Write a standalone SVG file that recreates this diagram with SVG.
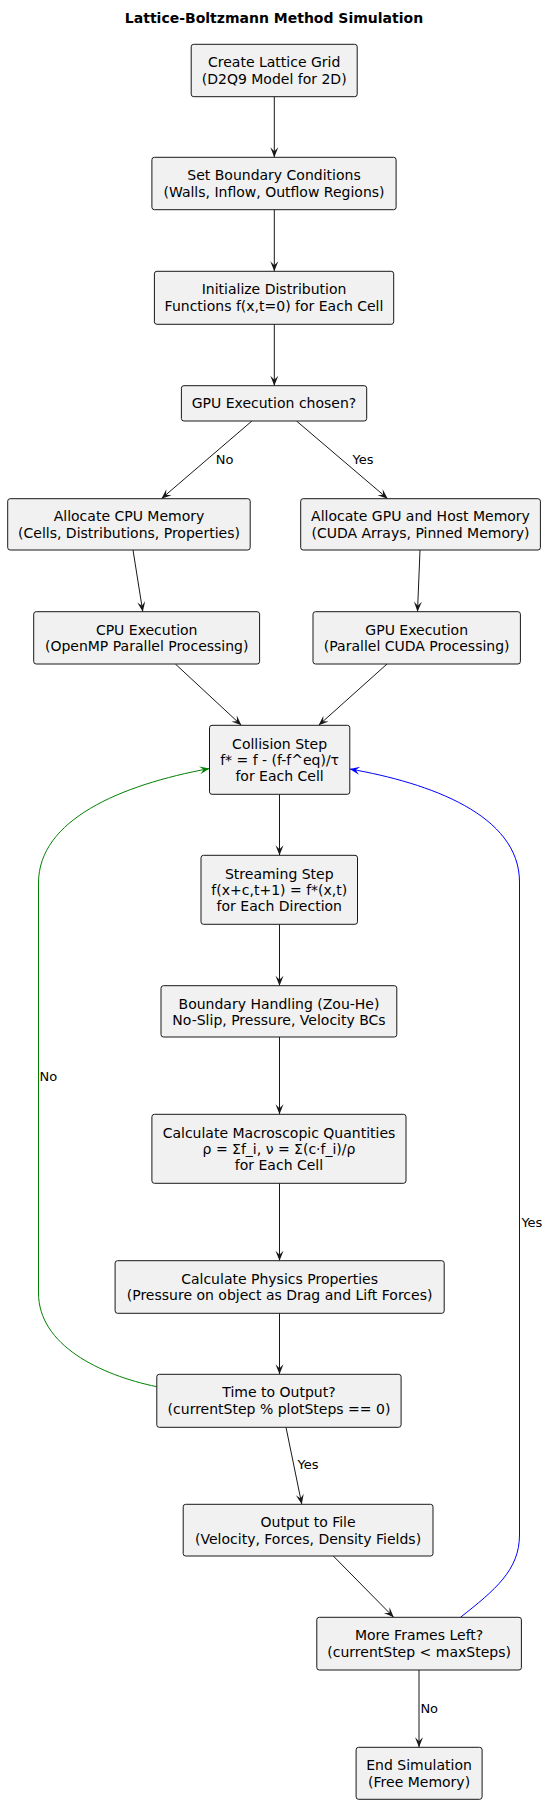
<svg xmlns="http://www.w3.org/2000/svg" width="548" height="1804" viewBox="0 0 548 1804">
<style>
.n rect{fill:#F1F1F1;stroke:#181818;stroke-width:1}
.n text{font-family:"DejaVu Sans",sans-serif;font-size:14px;fill:#000;text-anchor:middle}
.e{fill:none;stroke:#181818;stroke-width:1}
.lbl{font-family:"DejaVu Sans",sans-serif;font-size:13px;fill:#000}
.title{font-family:"DejaVu Sans",sans-serif;font-size:14px;font-weight:bold;fill:#000;text-anchor:middle}
</style>
<defs>
<marker id="ab" markerUnits="userSpaceOnUse" markerWidth="12" markerHeight="10" viewBox="-11 -5 12 10" refX="0" refY="0" orient="auto"><path d="M0,0 L-10,-4 L-6,0 L-10,4 Z" fill="#181818"/></marker>
<marker id="ag" markerUnits="userSpaceOnUse" markerWidth="12" markerHeight="10" viewBox="-11 -5 12 10" refX="0" refY="0" orient="auto"><path d="M0,0 L-10,-4 L-6,0 L-10,4 Z" fill="#008000"/></marker>
<marker id="abl" markerUnits="userSpaceOnUse" markerWidth="12" markerHeight="10" viewBox="-11 -5 12 10" refX="0" refY="0" orient="auto"><path d="M0,0 L-10,-4 L-6,0 L-10,4 Z" fill="#0000FF"/></marker>
</defs>
<text class="title" x="274" y="22.7">Lattice-Boltzmann Method Simulation</text>
<g id="connectors">
<line class="e" x1="274.3" y1="96.7" x2="274.3" y2="157.3" marker-end="url(#ab)"/>
<line class="e" x1="274.3" y1="209.7" x2="274.3" y2="271.3" marker-end="url(#ab)"/>
<line class="e" x1="274.3" y1="324.3" x2="274.3" y2="385.7" marker-end="url(#ab)"/>
<line class="e" x1="251.9" y1="421" x2="161.4" y2="498.7" marker-end="url(#ab)"/>
<text class="lbl" x="215.8" y="464">No</text>
<line class="e" x1="296.5" y1="421" x2="387.7" y2="498.7" marker-end="url(#ab)"/>
<text class="lbl" x="352.6" y="464">Yes</text>
<line class="e" x1="133" y1="550" x2="142.8" y2="611.7" marker-end="url(#ab)"/>
<line class="e" x1="420" y1="550" x2="417.5" y2="611.7" marker-end="url(#ab)"/>
<line class="e" x1="175.4" y1="664" x2="241.4" y2="725.3" marker-end="url(#ab)"/>
<line class="e" x1="387" y1="664" x2="318.6" y2="725.3" marker-end="url(#ab)"/>
<line class="e" x1="279.5" y1="794.3" x2="279.5" y2="855.3" marker-end="url(#ab)"/>
<line class="e" x1="279.5" y1="924.3" x2="279.5" y2="985.7" marker-end="url(#ab)"/>
<line class="e" x1="279.5" y1="1037" x2="279.5" y2="1114.3" marker-end="url(#ab)"/>
<line class="e" x1="279.5" y1="1183.3" x2="279.5" y2="1260.7" marker-end="url(#ab)"/>
<line class="e" x1="279.5" y1="1313.3" x2="279.5" y2="1374.3" marker-end="url(#ab)"/>
<line class="e" x1="286" y1="1427.3" x2="301.8" y2="1504.3" marker-end="url(#ab)"/>
<text class="lbl" x="297.5" y="1469">Yes</text>
<line class="e" x1="333.3" y1="1556" x2="393.7" y2="1617.3" marker-end="url(#ab)"/>
<line class="e" x1="419" y1="1670" x2="419" y2="1747.3" marker-end="url(#ab)"/>
<text class="lbl" x="420.4" y="1712.7">No</text>
<path d="M156.8,1386.7 C100,1375 38.5,1345 38.5,1293 L38.5,883 C38.5,820 120,785 209.5,768.5" fill="none" stroke="#008000" stroke-width="1" marker-end="url(#ag)"/>
<text class="lbl" x="39.6" y="1081">No</text>
<path d="M460.5,1617.3 C495,1590 519.5,1570 519.5,1535 L519.5,882 C519.5,815 430,783 349.8,769" fill="none" stroke="#0000FF" stroke-width="1" marker-end="url(#abl)"/>
<text class="lbl" x="521.4" y="1226.7">Yes</text>
</g>
<g id="n1" class="n"><rect x="191.2" y="44.3" width="166" height="52.4" rx="2.5"/><text x="274.2" y="67.3">Create Lattice Grid</text><text x="274.2" y="83.6">(D2Q9 Model for 2D)</text></g>
<g id="n2" class="n"><rect x="151.9" y="157.3" width="244.2" height="52.4" rx="2.5"/><text x="274" y="180.3">Set Boundary Conditions</text><text x="274" y="196.6">(Walls, Inflow, Outflow Regions)</text></g>
<g id="n3" class="n"><rect x="154.4" y="271.3" width="239.3" height="53" rx="2.5"/><text x="274" y="294.3">Initialize Distribution</text><text x="274" y="310.6">Functions f(x,t=0) for Each Cell</text></g>
<g id="n4" class="n"><rect x="181.4" y="385.7" width="185.3" height="35.3" rx="2.5"/><text x="274" y="408.2">GPU Execution chosen?</text></g>
<g id="n5" class="n"><rect x="7.7" y="498.7" width="242.5" height="51.3" rx="2.5"/><text x="129" y="521.2">Allocate CPU Memory</text><text x="129" y="537.5">(Cells, Distributions, Properties)</text></g>
<g id="n6" class="n"><rect x="300.7" y="498.7" width="239.7" height="51.3" rx="2.5"/><text x="420.5" y="521.2">Allocate GPU and Host Memory</text><text x="420.5" y="537.5">(CUDA Arrays, Pinned Memory)</text></g>
<g id="n7" class="n"><rect x="33.7" y="611.7" width="225.9" height="52.3" rx="2.5"/><text x="146.7" y="634.5">CPU Execution</text><text x="146.7" y="650.8">(OpenMP Parallel Processing)</text></g>
<g id="n8" class="n"><rect x="313" y="611.7" width="207.4" height="52.3" rx="2.5"/><text x="416.7" y="634.5">GPU Execution</text><text x="416.7" y="650.8">(Parallel CUDA Processing)</text></g>
<g id="n9" class="n"><rect x="209.5" y="725.3" width="140.3" height="69" rx="2.5"/><text x="279.6" y="748.5">Collision Step</text><text x="279.6" y="764.8">f* = f - (f-f^eq)/τ</text><text x="279.6" y="781.1">for Each Cell</text></g>
<g id="n10" class="n"><rect x="201" y="855.3" width="156.5" height="69" rx="2.5"/><text x="279.3" y="878.5">Streaming Step</text><text x="279.3" y="894.8">f(x+c,t+1) = f*(x,t)</text><text x="279.3" y="911.1">for Each Direction</text></g>
<g id="n11" class="n"><rect x="161" y="985.7" width="235.8" height="51.3" rx="2.5"/><text x="279" y="1008.5">Boundary Handling (Zou-He)</text><text x="279" y="1024.8">No-Slip, Pressure, Velocity BCs</text></g>
<g id="n12" class="n"><rect x="151.9" y="1114.3" width="254.1" height="69" rx="2.5"/><text x="279" y="1137.5">Calculate Macroscopic Quantities</text><text x="279" y="1153.8">ρ = Σf_i, ν = Σ(c·f_i)/ρ</text><text x="279" y="1170.1">for Each Cell</text></g>
<g id="n13" class="n"><rect x="115.1" y="1260.7" width="329.1" height="52.6" rx="2.5"/><text x="279.6" y="1283.7">Calculate Physics Properties</text><text x="279.6" y="1300">(Pressure on object as Drag and Lift Forces)</text></g>
<g id="n14" class="n"><rect x="156.8" y="1374.3" width="244.3" height="53" rx="2.5"/><text x="279" y="1397.3">Time to Output?</text><text x="279" y="1413.6">(currentStep % plotSteps == 0)</text></g>
<g id="n15" class="n"><rect x="183.2" y="1504.3" width="249.8" height="51.7" rx="2.5"/><text x="308.1" y="1527.3">Output to File</text><text x="308.1" y="1543.6">(Velocity, Forces, Density Fields)</text></g>
<g id="n16" class="n"><rect x="316.8" y="1617.3" width="204.6" height="52.7" rx="2.5"/><text x="419.1" y="1640.3">More Frames Left?</text><text x="419.1" y="1656.6">(currentStep &lt; maxSteps)</text></g>
<g id="n17" class="n"><rect x="356.1" y="1747.3" width="126" height="52" rx="2.5"/><text x="419.1" y="1770.3">End Simulation</text><text x="419.1" y="1786.6">(Free Memory)</text></g>
</svg>
